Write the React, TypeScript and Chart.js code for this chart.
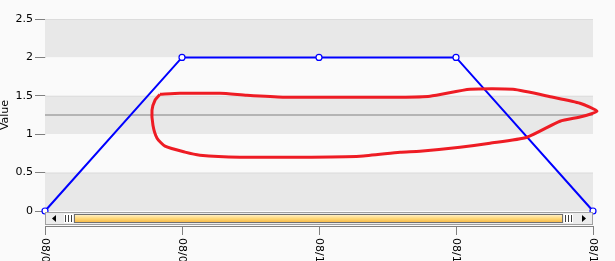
import { useEffect, useRef } from "react";
import { Chart, registerables } from "chart.js";
Chart.register(...registerables);

const categories = ["08/08", "08/09", "08/10", "08/11", "08/12"];
const values = [0, 2, 2, 2, 0];
const referenceLevel = 1.25;
const yMin = 0;
const yMax = 2.5;
const yStep = 0.5;
const loopX = [0.839, 0.985, 1.277, 1.474, 1.737, 2.153, 2.591, 2.81, 3.102, 3.416, 3.708, 3.905, 4.029, 3.92, 3.759, 3.518, 3.248, 3.029, 2.737, 2.591, 2.299, 1.861, 1.423, 1.131, 1.022, 0.876, 0.818, 0.788, 0.781, 0.803, 0.839];
const loopY = [1.519, 1.532, 1.532, 1.506, 1.481, 1.481, 1.481, 1.494, 1.584, 1.584, 1.481, 1.403, 1.299, 1.23, 1.169, 0.961, 0.883, 0.831, 0.779, 0.766, 0.714, 0.701, 0.701, 0.727, 0.766, 0.844, 0.948, 1.117, 1.312, 1.442, 1.519];

const FONT = "Tahoma, 'DejaVu Sans', 'Liberation Sans', sans-serif";

const decor = {
  id: "decor",
  beforeDraw(chart: any) {
    const ctx = chart.ctx;
    ctx.save();
    ctx.fillStyle = "#fafafa";
    ctx.fillRect(0, 0, chart.width, chart.height);
    ctx.restore();
  },
  beforeDatasetsDraw(chart: any) {
    const ctx = chart.ctx;
    const ca = chart.chartArea;
    const y = chart.scales.y;
    ctx.save();
    let idx = 0;
    for (let v = yMax; v > yMin; v -= yStep) {
      const t = y.getPixelForValue(v);
      const b = y.getPixelForValue(v - yStep);
      ctx.fillStyle = idx % 2 === 0 ? "#e8e8e8" : "#fafafa";
      ctx.fillRect(ca.left, t, ca.right - ca.left, b - t);
      if (idx % 2 === 0) {
        ctx.fillStyle = "#dcdcdc";
        ctx.fillRect(ca.left, t, ca.right - ca.left, 1);
      }
      idx++;
    }
    ctx.restore();
  },
  afterDraw(chart: any) {
    const ctx = chart.ctx;
    const ca = chart.chartArea;
    const xs = chart.scales.x;
    ctx.save();
    // scrollbar
    const sTop = ca.bottom + 1;
    const sH = 13;
    const L = ca.left, R = ca.right;
    ctx.fillStyle = "#ececec";
    ctx.fillRect(L, sTop, R - L, sH);
    ctx.strokeStyle = "#a0a0a0";
    ctx.lineWidth = 1;
    ctx.strokeRect(L + 0.5, sTop + 0.5, R - L - 1, sH - 1);
    // arrows
    ctx.fillStyle = "#000";
    ctx.beginPath();
    ctx.moveTo(L + 7, sTop + sH / 2);
    ctx.lineTo(L + 11, sTop + 3);
    ctx.lineTo(L + 11, sTop + sH - 3);
    ctx.closePath();
    ctx.fill();
    ctx.beginPath();
    ctx.moveTo(R - 7, sTop + sH / 2);
    ctx.lineTo(R - 11, sTop + 3);
    ctx.lineTo(R - 11, sTop + sH - 3);
    ctx.closePath();
    ctx.fill();
    // grips
    const grip = (x0: number) => {
      ctx.fillStyle = "#ffffff";
      ctx.fillRect(x0, sTop + 2, 9, sH - 4);
      ctx.fillStyle = "#404040";
      for (let i = 0; i < 3; i++) ctx.fillRect(x0 + 1 + i * 3, sTop + 3, 1, sH - 6);
    };
    grip(L + 19);
    grip(R - 29);
    // thumb
    const tx0 = L + 29, tx1 = R - 30;
    const g = ctx.createLinearGradient(0, sTop + 2, 0, sTop + sH - 2);
    g.addColorStop(0, "#fff6d8");
    g.addColorStop(0.5, "#ffd878");
    g.addColorStop(1, "#f4b440");
    ctx.fillStyle = g;
    ctx.fillRect(tx0, sTop + 2, tx1 - tx0, sH - 4);
    ctx.strokeStyle = "#707070";
    ctx.strokeRect(tx0 + 0.5, sTop + 2.5, tx1 - tx0 - 1, sH - 5);
    // x axis
    const axY = sTop + sH + 1;
    ctx.strokeStyle = "#808080";
    ctx.beginPath();
    ctx.moveTo(L, axY + 0.5);
    ctx.lineTo(R, axY + 0.5);
    ctx.stroke();
    ctx.fillStyle = "#000";
    ctx.font = "11px " + FONT;
    ctx.textAlign = "left";
    ctx.textBaseline = "middle";
    categories.forEach((c, i) => {
      const px = Math.round(xs.getPixelForValue(i));
      ctx.beginPath();
      ctx.moveTo(px + 0.5, axY);
      ctx.lineTo(px + 0.5, axY + 9);
      ctx.stroke();
      ctx.save();
      ctx.translate(px, axY + 12);
      ctx.rotate(Math.PI / 2);
      ctx.fillText(c, 0, 0);
      ctx.restore();
    });
    ctx.restore();
  },
};

export default function App() {
  const ref = useRef<HTMLCanvasElement>(null);
  useEffect(() => {
    document.body.style.margin = "0";
    const chart = new Chart(ref.current!, {
      type: "scatter",
      data: {
        datasets: [
          {
            type: "line",
            data: [
              { x: 0, y: referenceLevel },
              { x: categories.length - 1, y: referenceLevel },
            ],
            borderColor: "#808080",
            borderWidth: 1,
            pointRadius: 0,
            order: 3,
          } as any,
          {
            type: "line",
            data: values.map((v, i) => ({ x: i, y: v })),
            borderColor: "#0000ff",
            borderWidth: 2,
            pointRadius: 3,
            pointBorderWidth: 1.2,
            pointBackgroundColor: "#ffffff",
            pointBorderColor: "#0000ff",
            clip: false,
            order: 2,
          } as any,
          {
            type: "line",
            data: loopX.map((x, i) => ({ x, y: loopY[i] })),
            borderColor: "#ee1c24",
            borderWidth: 3,
            pointRadius: 0,
            tension: 0.2,
            clip: false,
            order: 1,
          } as any,
        ],
      },
      options: {
        animation: false,
        responsive: false,
        layout: { padding: { top: 19, right: 22, bottom: 50, left: 0 } },
        plugins: { legend: { display: false }, tooltip: { enabled: false } },
        scales: {
          x: { type: "linear", display: false, min: 0, max: categories.length - 1 },
          y: {
            min: yMin,
            max: yMax,
            afterFit: (s: any) => {
              s.width = 45;
            },
            ticks: {
              stepSize: yStep,
              color: "#000",
              padding: 2,
              font: { family: FONT, size: 11 },
              callback: (v: any) => String(v),
            },
            grid: { drawOnChartArea: false, tickLength: 10, color: "#808080" },
            border: { color: "#808080" },
            title: {
              display: true,
              text: "Value",
              color: "#000",
              font: { family: FONT, size: 11 },
              padding: { top: -1, bottom: 0 },
            },
          },
        },
      },
      plugins: [decor],
    });
    return () => chart.destroy();
  }, []);
  return (
    <div style={{ position: "fixed", left: 0, top: 0, width: 615, height: 261 }}>
      <canvas ref={ref} width={615} height={261} style={{ width: 615, height: 261 }} />
    </div>
  );
}
